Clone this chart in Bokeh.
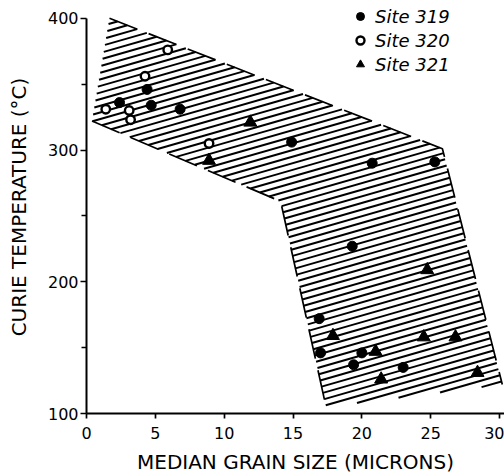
import numpy as np
from bokeh.plotting import figure
from bokeh.models import FixedTicker, Legend, LegendItem, Range1d
from bokeh.embed import file_html
from bokeh.resources import INLINE

# Curie temperature against median grain size, DSDP Sites 319-321
site319_size = [2.4, 4.4, 4.7, 6.8, 14.9, 20.75, 25.3, 19.3, 16.9, 17.0, 20.0, 19.4, 23.0]
site319_temp = [336, 346, 334, 331, 306, 290, 291, 227, 172, 146, 146, 137, 135]

site320_size = [1.4, 3.1, 3.2, 4.25, 5.9, 8.9]
site320_temp = [331, 330, 323, 356, 376, 305]

site321_size = [11.9, 8.9, 24.75, 17.9, 21.0, 21.4, 24.5, 26.8, 28.4]
site321_temp = [321, 292, 209, 159, 147, 126, 158, 158, 131]

# envelope enclosing all samples (clockwise from top-left)
env_size = [1.67, 25.85, 30.2, 17.4, 14.1, 0.4]
env_temp = [400, 301, 122, 105, 261, 322]
# envelope sides drawn as dashed outline
upper_side = [0, 1, 2]
lower_side = [5, 4, 3]

x_ticks = [0, 5, 10, 15, 20, 25, 30]
y_ticks = [100, 200, 300, 400]
y_minor = [150, 250, 350]

LEFT, BOTTOM = 86, 58
W, H = 504, 476
FW, FH = W - LEFT, H - BOTTOM
X0, X1 = 0, 30.36
Y0 = 100
Y1 = Y0 + FH * 300 / 400      # 300 degrees span 400 px; headroom above 400 for the key

p = figure(width=W, height=H, output_backend="svg", toolbar_location=None,
           x_range=Range1d(X0, X1), y_range=Range1d(Y0, Y1),
           min_border_left=LEFT, min_border_right=0,
           min_border_top=0, min_border_bottom=BOTTOM)
p.outline_line_color = None
p.xgrid.visible = False
p.ygrid.visible = False
p.background_fill_color = "white"
p.border_fill_color = "white"

# hatch lines clipped to the envelope
sx = FW / (X1 - X0)
sy = FH / (Y1 - Y0)
slope_px = 0.29
gap_px = 6.7
m = slope_px * sx / sy
step = gap_px / sy
vx = np.array(env_size, dtype=float)
vy = np.array(env_temp, dtype=float)
n = len(vx)
b_vals = vy - m * vx
hx, hy = [], []
for b in np.arange(b_vals.min() + step / 2, b_vals.max(), step):
    cuts = []
    for i in range(n):
        xa, ya = vx[i], vy[i]
        xb, yb = vx[(i + 1) % n], vy[(i + 1) % n]
        fa = ya - m * xa - b
        fb = yb - m * xb - b
        if (fa > 0) != (fb > 0):
            t = fa / (fa - fb)
            cuts.append(xa + t * (xb - xa))
    cuts.sort()
    for a, c in zip(cuts[0::2], cuts[1::2]):
        hx.append([a, c])
        hy.append([m * a + b, m * c + b])
p.multi_line(hx, hy, line_color="black", line_width=2.0)

for side in (upper_side, lower_side):
    p.line([env_size[i] for i in side], [env_temp[i] for i in side],
           line_color="black", line_width=1.7, line_dash="30 12")

r319 = p.scatter(site319_size, site319_temp, marker="circle", size=10,
                 fill_color="black", line_color="black")
r320 = p.scatter(site320_size, site320_temp, marker="circle", size=8.5,
                 fill_color="white", line_color="black", line_width=2.4)
r321 = p.scatter(site321_size, site321_temp, marker="triangle", size=13,
                 fill_color="black", line_color="black")

legend = Legend(items=[LegendItem(label="Site 319", renderers=[r319]),
                       LegendItem(label="Site 320", renderers=[r320]),
                       LegendItem(label="Site 321", renderers=[r321])],
                location=(264, 338), orientation="vertical",
                glyph_width=20, glyph_height=22, spacing=2,
                label_standoff=5, padding=0, margin=0,
                border_line_alpha=0, background_fill_alpha=0,
                label_text_font="DejaVu Sans", label_text_font_style="italic",
                label_text_font_size="18px", label_text_color="black")
p.add_layout(legend)

FONT = "DejaVu Sans"
for ax in (p.xaxis[0], p.yaxis[0]):
    ax.axis_line_width = 2.0
    ax.axis_line_color = "black"
    ax.major_tick_line_width = 1.7
    ax.minor_tick_line_width = 1.7
    ax.major_tick_in = 0
    ax.minor_tick_in = 0
    ax.major_label_text_font = FONT
    ax.major_label_text_font_size = "16px"
    ax.major_label_text_color = "black"
    ax.axis_label_text_font = FONT
    ax.axis_label_text_font_size = "20px"
    ax.axis_label_text_font_style = "normal"
    ax.axis_label_text_color = "black"

p.xaxis.ticker = FixedTicker(ticks=x_ticks)
p.xaxis.major_tick_out = 5
p.xaxis.minor_tick_out = 0
p.xaxis.major_label_standoff = 8
p.xaxis.axis_label = "MEDIAN GRAIN SIZE (MICRONS)"
p.xaxis.axis_label_standoff = 8

p.yaxis.bounds = (100, 400)
p.yaxis.ticker = FixedTicker(ticks=y_ticks, minor_ticks=y_minor)
p.yaxis.major_tick_out = 6
p.yaxis.minor_tick_out = 5
p.yaxis.major_label_standoff = 2
p.yaxis.axis_label = "CURIE TEMPERATURE (°C)"
p.yaxis.axis_label_standoff = 14

open("out.html", "w").write(file_html(p, INLINE))
